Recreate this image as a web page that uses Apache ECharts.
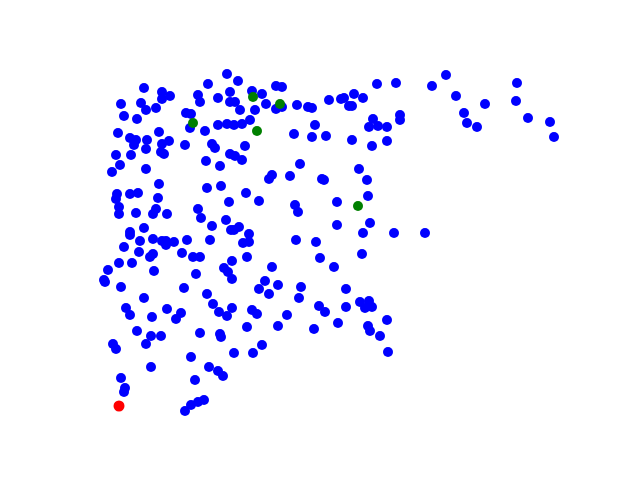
<!DOCTYPE html>
<html><head><meta charset="utf-8">
<script src="https://cdn.jsdelivr.net/npm/echarts@6/dist/echarts.min.js"></script>
<style>html,body{margin:0;padding:0;background:#fff}#c{width:640px;height:480px}</style>
</head><body><div id="c"></div>
<script>
const bluePoints = [
[227,74],[238,81],[208,84],[144,88],[162,92],[170,96],[162,99],[198,95],[200,102],[218,98],[230,92],[230,102],[235,102],[252,91],[121,104],[141,103],[146,110],[156,108],[240,110],[255,110],[124,116],[137,119],[186,113],[191,114],[190,128],[205,131],[218,125],[227,124],[234,125],[242,124],[250,120],[118,133],[130,138],[136,140],[134,145],[147,140],[146,149],[159,132],[162,144],[169,141],[161,152],[164,154],[185,145],[212,144],[215,148],[245,146],[230,154],[235,156],[242,160],[206,161],[220,166],[116,155],[131,155],[120,165],[112,172],[146,169],[159,184],[207,188],[221,186],
[276,86],[282,87],[262,94],[266,104],[276,109],[282,107],[297,105],[308,107],[312,108],[329,100],[341,99],[344,98],[354,94],[363,98],[349,106],[352,106],[377,84],[396,83],[400,115],[400,120],[373,119],[369,127],[378,126],[387,127],[315,125],[294,134],[312,137],[326,136],[352,140],[372,146],[387,141],[300,164],[272,175],[269,179],[290,176],[359,169],[322,179],[324,180],[367,180],
[446,75],[432,86],[456,96],[464,113],[467,123],[477,127],[485,104],[517,83],[516,101],[528,118],[550,122],[554,137],
[117,194],[116,199],[130,194],[138,193],[158,198],[119,207],[119,214],[136,213],[156,209],[153,214],[167,214],[246,193],[229,202],[198,209],[201,218],[226,220],[212,226],[231,230],[234,230],[239,227],[249,234],[249,242],[243,243],[144,228],[130,232],[130,235],[140,241],[124,247],[153,239],[162,241],[166,241],[166,245],[174,242],[187,240],[210,240],[139,252],[150,257],[153,254],[182,253],[193,257],[200,257],[119,263],[132,263],[108,270],[104,280],[105,282],[154,271],[196,274],[232,261],[247,257],[224,268],[228,272],[232,279],[121,287],[184,288],[144,298],[207,294],[213,304],[259,289],
[259,201],[295,205],[298,212],[337,202],[368,196],[337,225],[370,223],[363,233],[394,233],[425,233],[296,240],[316,242],[320,258],[334,267],[362,254],[272,267],[265,281],[278,285],[269,294],[301,287],[299,298],[346,289],[319,306],[346,307],[360,302],[369,301],[372,307],
[325,312],[365,308],[287,315],[278,326],[314,329],[338,323],[368,326],[370,331],[387,320],[380,336],[262,345],[388,352],
[126,308],[130,315],[152,317],[167,309],[181,313],[176,319],[137,331],[151,336],[161,336],[146,344],[113,344],[116,349],[200,333],[220,334],[221,337],[219,312],[227,316],[232,308],[252,310],[257,314],[247,327],[234,353],[253,353],[191,357],[151,367],[209,367],[218,371],[223,376],[195,380],[121,378],[125,388],[124,392],[185,411],[191,405],[198,402],[204,400]
];
const greenPoints = [[253,97],[193,123],[257,131],[280,104],[358,206]];
const redPoints = [[119,406]];

const chart = echarts.init(document.getElementById('c'), null, {renderer:'canvas'});
const hidden = {show:false};
chart.setOption({
  animation:false,
  backgroundColor:'#ffffff',
  grid:{left:80, right:64, top:57.6, bottom:52.8},
  xAxis:{type:'value', min:80, max:576, axisLine:hidden, axisTick:hidden, axisLabel:hidden, splitLine:hidden},
  yAxis:{type:'value', min:57.6, max:427.2, inverse:true, axisLine:hidden, axisTick:hidden, axisLabel:hidden, splitLine:hidden},
  series:[
    {type:'scatter', data:bluePoints, symbolSize:10, itemStyle:{color:'#0000ff', opacity:1}},
    {type:'scatter', data:greenPoints, symbolSize:10, itemStyle:{color:'#008000', opacity:1}},
    {type:'scatter', data:redPoints, symbolSize:11, itemStyle:{color:'#ff0000', opacity:1}}
  ]
});
</script></body></html>
